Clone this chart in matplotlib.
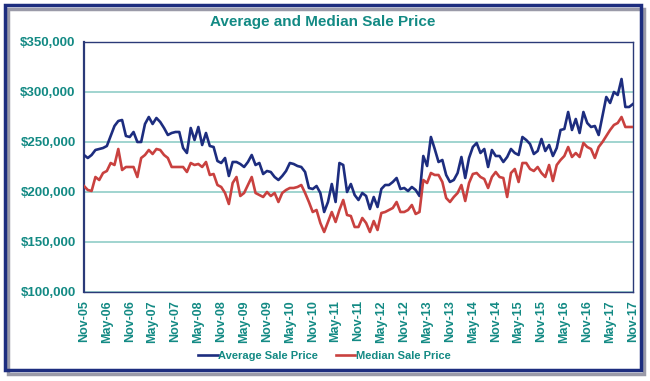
import matplotlib
matplotlib.use("Agg")
import matplotlib.pyplot as plt
from matplotlib.patches import Rectangle
from matplotlib.ticker import FuncFormatter

# monthly, Nov-05 .. Nov-17 (values in $1000s)
avg_price = [
    237, 234, 237, 242, 243, 244, 246, 256, 266, 271, 272, 256, 255, 260, 250, 250,
    268, 275, 268, 274, 270, 264, 257, 259, 260, 260, 244, 239, 264, 252, 265, 247,
    259, 246, 245, 231, 229, 234, 216, 230, 230, 228, 225, 230, 237, 227, 229, 218,
    221, 220, 215, 212, 216, 221, 229, 228, 226, 225, 220, 204, 203, 206, 199, 180,
    190, 208, 190, 229, 227, 200, 208, 197, 192, 199, 196, 183, 195, 185, 203, 207,
    207, 210, 214, 203, 204, 201, 205, 202, 196, 236, 226, 255, 243, 230, 232, 217,
    210, 212, 219, 235, 214, 234, 245, 249, 239, 243, 225, 242, 236, 236, 230, 235,
    243, 239, 237, 255, 252, 248, 238, 241, 253, 241, 247, 236, 244, 262, 263, 280,
    262, 273, 259, 280, 269, 265, 266, 257, 276, 295, 289, 300, 297, 313, 285, 285,
    288,
]
median_price = [
    206, 202, 201, 215, 212, 219, 221, 229, 227, 243, 222, 225, 225, 225, 215, 234,
    237, 242, 238, 243, 242, 237, 234, 225, 225, 225, 225, 220, 229, 227, 228, 225,
    230, 217, 218, 207, 205, 199, 188, 209, 215, 196, 199, 207, 215, 199, 197, 195,
    200, 196, 199, 190, 199, 202, 204, 204, 205, 207, 199, 190, 180, 182, 169, 160,
    170, 180, 170, 182, 192, 177, 176, 165, 165, 174, 169, 160, 171, 162, 179, 180,
    182, 184, 190, 180, 180, 182, 187, 178, 180, 212, 209, 219, 217, 217, 210, 194,
    190, 195, 199, 207, 191, 209, 218, 219, 215, 213, 204, 215, 220, 215, 214, 195,
    219, 223, 210, 229, 229, 223, 221, 225, 219, 215, 227, 211, 227, 232, 236, 245,
    235, 239, 235, 249, 245, 243, 234, 245, 250, 256, 262, 267, 269, 275, 265, 265,
    265,
]
tick_labels = [
    "Nov-05", "May-06", "Nov-06", "May-07", "Nov-07", "May-08", "Nov-08", "May-09",
    "Nov-09", "May-10", "Nov-10", "May-11", "Nov-11", "May-12", "Nov-12", "May-13",
    "Nov-13", "May-14", "Nov-14", "May-15", "Nov-15", "May-16", "Nov-16", "May-17",
    "Nov-17",
]
y_ticks = [100000, 150000, 200000, 250000, 300000, 350000]

teal = "#138a84"
navy = "#1d2d7f"
red = "#c9413f"
grid_col = "#86c9c2"

plt.rcParams["font.family"] = ["Liberation Sans", "DejaVu Sans"]

fig = plt.figure(figsize=(6.5, 3.81), dpi=100)

# outer frame with a small shadow
fig.patches.append(Rectangle((0.0125, 0.018), 0.978, 0.958, transform=fig.transFigure,
                             facecolor="none", edgecolor="#9a9aa8", linewidth=2.5, zorder=0))
fig.patches.append(Rectangle((0.0077, 0.0289), 0.978, 0.958, transform=fig.transFigure,
                             facecolor="none", edgecolor=navy, linewidth=2.5, zorder=1))

ax = fig.add_axes([0.1292, 0.2336, 0.8446, 0.6562])
x = list(range(len(avg_price)))
ax.plot(x, [v * 1000 for v in avg_price], color=navy, lw=1.9, label="Average Sale Price", zorder=3)
ax.plot(x, [v * 1000 for v in median_price], color=red, lw=1.9, label="Median Sale Price", zorder=3)

ax.set_xlim(0, len(avg_price) - 1)
ax.set_ylim(100000, 350000)
ax.set_yticks(y_ticks)
ax.yaxis.set_major_formatter(FuncFormatter(lambda v, p: f"${v:,.0f}"))
ax.set_xticks(list(range(0, len(avg_price), 6)))
ax.set_xticklabels(tick_labels, rotation=90)
ax.tick_params(axis="both", length=0, colors=teal, labelsize=9.5)
ax.tick_params(axis="x", labelsize=9, pad=6)
ax.tick_params(axis="y", pad=6)
for lbl in ax.get_xticklabels() + ax.get_yticklabels():
    lbl.set_fontweight("bold")
ax.grid(axis="y", color=grid_col, lw=1.1)
ax.set_axisbelow(True)
for side, sp in ax.spines.items():
    sp.set_color("#2b3a78")
    sp.set_linewidth(1.0)
ax.spines["left"].set_linewidth(1.6)

fig.text(0.497, 0.942, "Average and Median Sale Price", ha="center", va="center",
         color=teal, fontsize=11, fontweight="bold")

leg = fig.legend(loc="center", bbox_to_anchor=(0.499, 0.066), ncol=2, frameon=False,
                 handlelength=1.75, handletextpad=0.05, columnspacing=1.6,
                 prop={"weight": "bold", "size": 8})
for t in leg.get_texts():
    t.set_color(teal)

fig.savefig("out.png", dpi=100)
